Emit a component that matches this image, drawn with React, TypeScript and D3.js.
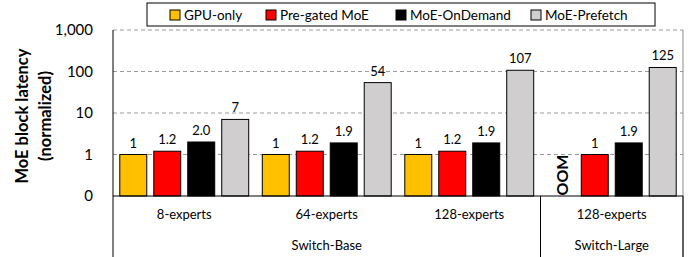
import React from 'react';
import * as d3 from 'd3';

const categories = ['8-experts', '64-experts', '128-experts', '128-experts L'];
const categoryLabels = ['8-experts', '64-experts', '128-experts', '128-experts'];
const models = ['Switch-Base', 'Switch-Large'];
const modelSpans = [3, 1];
const seriesNames = ['GPU-only', 'Pre-gated MoE', 'MoE-OnDemand', 'MoE-Prefetch'];
const seriesColors = ['#FFC000', '#FF0000', '#000000', '#D0CECE'];

const gpuOnly = [1, 1, 1, null];
const preGated = [1.2, 1.2, 1.2, 1];
const onDemand = [2.0, 1.9, 1.9, 1.9];
const prefetch = [7, 54, 107, 125];
const gpuOnlyLabels = ['1', '1', '1', 'OOM'];
const preGatedLabels = ['1.2', '1.2', '1.2', '1'];
const onDemandLabels = ['2.0', '1.9', '1.9', '1.9'];
const prefetchLabels = ['7', '54', '107', '125'];

const yTicks = [0.1, 1, 10, 100, 1000];
const yTickLabels = ['0', '1', '10', '100', '1,000'];

const W = 693;
const H = 257;
const margin = { left: 113, right: 10, top: 30, bottom: 61 };
const font = 'Lato, "Open Sans", sans-serif';

export default function App() {
  const series = [gpuOnly, preGated, onDemand, prefetch];
  const labels = [gpuOnlyLabels, preGatedLabels, onDemandLabels, prefetchLabels];

  const x0 = d3.scaleBand().domain(categories).range([margin.left, W - margin.right]).padding(0);
  const x1 = d3
    .scaleBand()
    .domain(seriesNames)
    .range([0, x0.bandwidth()])
    .paddingInner(0.206)
    .paddingOuter(0.2);
  const y = d3.scaleLog().domain([0.1, 1000]).range([H - margin.bottom, margin.top]);
  const base = y(0.1);
  const right = W - margin.right;

  // model group boundaries on the x axis
  let idx = 0;
  const groups = models.map((m, i) => {
    const start = x0(categories[idx]);
    idx += modelSpans[i];
    const end = x0(categories[idx - 1]) + x0.bandwidth();
    return { name: m, start, end };
  });

  const legendX = [170, 266, 396, 531];
  const titleY = (margin.top + base) / 2 + 3;

  return (
    <svg width={W} height={H} style={{ position: 'absolute', left: 0, top: 0 }} fontFamily={font}>
      <rect x={0} y={0} width={W} height={H} fill="#fff" />

      {/* gridlines */}
      {yTicks.slice(1).map(t => (
        <line key={t} x1={margin.left} x2={right} y1={y(t)} y2={y(t)} stroke="#9a9a9a" strokeDasharray="4,3" />
      ))}
      <line x1={right} x2={right} y1={margin.top} y2={H} stroke="#8c8c8c" />

      {/* bars */}
      {categories.map((c, ci) =>
        seriesNames.map((s, si) => {
          const v = series[si][ci];
          const bx = x0(c) + x1(s);
          const bw = x1.bandwidth();
          if (v == null) {
            return (
              <text
                key={c + s}
                transform={`translate(${bx + bw / 2 + 7},${base - 21}) rotate(-90)`}
                textAnchor="middle"
                fontSize={16}
                fontWeight="bold"
              >
                {labels[si][ci]}
              </text>
            );
          }
          return (
            <g key={c + s}>
              <rect
                x={bx}
                y={y(v)}
                width={bw}
                height={base - y(v)}
                fill={seriesColors[si]}
                stroke="#000"
                strokeWidth={1}
              />
              <text x={bx + bw / 2} y={y(v) - 7} textAnchor="middle" fontSize={13}>
                {labels[si][ci]}
              </text>
            </g>
          );
        })
      )}

      {/* axes */}
      <line x1={margin.left} x2={margin.left} y1={margin.top} y2={H} stroke="#000" />
      <line x1={margin.left} x2={right} y1={base} y2={base} stroke="#000" />
      {yTicks.map((t, i) => (
        <text key={t} x={93} y={y(t) + 5} textAnchor="end" fontSize={15}>
          {yTickLabels[i]}
        </text>
      ))}

      {/* category labels */}
      {categories.map((c, ci) => (
        <text key={c} x={x0(c) + x0.bandwidth() / 2} y={219} textAnchor="middle" fontSize={13}>
          {categoryLabels[ci]}
        </text>
      ))}
      {groups.map(g => (
        <g key={g.name}>
          <line x1={g.end} x2={g.end} y1={base} y2={H} stroke="#000" />
          <text x={(g.start + g.end) / 2} y={250} textAnchor="middle" fontSize={13}>
            {g.name}
          </text>
        </g>
      ))}

      {/* y title */}
      <text
        transform={`translate(28,${titleY}) rotate(-90)`}
        textAnchor="middle"
        fontSize={16.5}
        fontWeight="bold"
      >
        MoE block latency
      </text>
      <text
        transform={`translate(51,${titleY}) rotate(-90)`}
        textAnchor="middle"
        fontSize={16.5}
        fontWeight="bold"
      >
        (normalized)
      </text>

      {/* legend */}
      <rect x={147} y={3} width={508} height={23} fill="#fff" stroke="#000" />
      {seriesNames.map((s, i) => (
        <g key={s}>
          <rect x={legendX[i]} y={10} width={10} height={10} fill={seriesColors[i]} stroke="#000" />
          <text x={legendX[i] + 14} y={20} fontSize={13.5}>
            {s}
          </text>
        </g>
      ))}
    </svg>
  );
}
